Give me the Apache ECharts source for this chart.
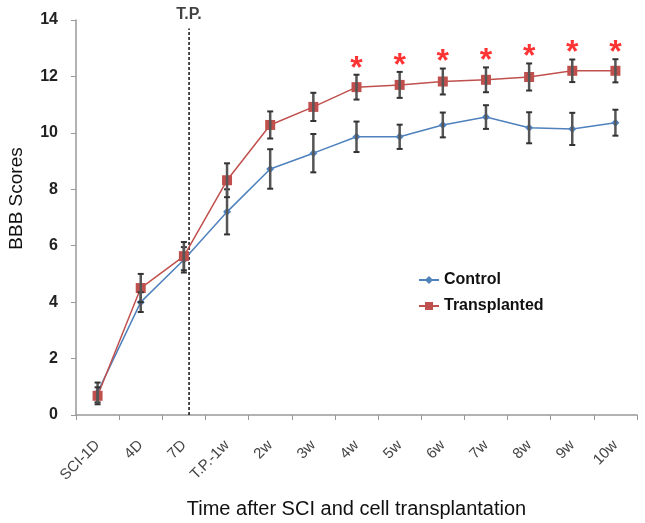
<!DOCTYPE html>
<html lang="en">
<head>
    <meta charset="UTF-8">
    <title>BBB Scores</title>
    <style>
        html, body { margin: 0; padding: 0; background: #fff; }
        #main { width: 645px; height: 523px; }
    </style>
</head>
<body>
    <div id="main"></div>
</body>
<script src="https://cdn.jsdelivr.net/npm/echarts@6/dist/echarts.min.js"></script>
<script type="text/javascript">
    // data
    var categories = ['SCI-1D', '4D', '7D', 'T.P.-1w', '2w', '3w', '4w', '5w', '6w', '7w', '8w', '9w', '10w'];
    var controlMean = [0.8, 4.0, 5.5, 7.2, 8.72, 9.28, 9.86, 9.86, 10.28, 10.56, 10.18, 10.14, 10.36];
    var controlErr = [0.35, 0.35, 0.45, 0.8, 0.7, 0.68, 0.54, 0.43, 0.44, 0.42, 0.55, 0.57, 0.46];
    var transMean = [0.68, 4.5, 5.63, 8.32, 10.28, 10.92, 11.62, 11.7, 11.82, 11.88, 11.98, 12.2, 12.2];
    var transErr = [0.3, 0.5, 0.5, 0.6, 0.48, 0.5, 0.44, 0.46, 0.46, 0.44, 0.48, 0.4, 0.41];
    var significant = [0, 0, 0, 0, 0, 0, 1, 1, 1, 1, 1, 1, 1];
    var tpPosition = 2.62; // transplantation, just after 7D
    var tpTop = 13.7;

    var blue = '#4F81BD';
    var red = '#C0504D';

    function errorBars(mean, err) {
        return mean.map(function (m, i) {
            return [i, m - err[i], m + err[i]];
        });
    }

    function renderError(params, api) {
        var x = api.value(0);
        var lo = api.coord([x, api.value(1)]);
        var hi = api.coord([x, api.value(2)]);
        var cap = 3;
        var st = { stroke: '#333', lineWidth: 2 };
        return {
            type: 'group',
            children: [
                { type: 'line', shape: { x1: lo[0], y1: lo[1], x2: hi[0], y2: hi[1] }, style: { stroke: '#555', lineWidth: 2.5 } },
                { type: 'line', shape: { x1: lo[0] - cap, y1: lo[1], x2: lo[0] + cap, y2: lo[1] }, style: st },
                { type: 'line', shape: { x1: hi[0] - cap, y1: hi[1], x2: hi[0] + cap, y2: hi[1] }, style: st }
            ]
        };
    }

    var starData = [];
    transMean.forEach(function (m, i) {
        if (significant[i]) starData.push([i, m + transErr[i]]);
    });

    var option = {
        animation: false,
        textStyle: { fontFamily: 'Liberation Sans, Arial, sans-serif' },
        grid: { left: 76, right: 8, top: 20, bottom: 108, outerBoundsMode: 'none', containLabel: false },
        legend: {
            orient: 'vertical',
            left: 413,
            top: 267,
            itemWidth: 20,
            itemHeight: 10,
            itemGap: 10,
            textStyle: { fontSize: 16, fontWeight: 'bold', color: '#111' },
            data: ['Control', 'Transplanted']
        },
        xAxis: [{
            type: 'category',
            data: categories,
            boundaryGap: true,
            axisLine: { lineStyle: { color: '#999', width: 1.5 } },
            axisTick: { show: true, length: 5, lineStyle: { color: '#999' } },
            axisLabel: { rotate: 45, fontSize: 15, color: '#444', margin: 28 },
            name: 'Time after SCI and cell transplantation',
            nameLocation: 'middle',
            nameGap: 84,
            nameTextStyle: { fontSize: 20, color: '#111' }
        }, {
            type: 'value',
            min: 0,
            max: categories.length,
            show: false
        }],
        yAxis: {
            type: 'value',
            min: 0,
            max: 14,
            interval: 2,
            splitLine: { show: false },
            axisLine: { show: true, lineStyle: { color: '#999', width: 1.5 } },
            axisTick: { show: true, length: 5, lineStyle: { color: '#999' } },
            axisLabel: { fontSize: 16, fontWeight: 'bold', color: '#222', margin: 18 },
            name: 'BBB Scores',
            nameLocation: 'middle',
            nameGap: 50,
            nameTextStyle: { fontSize: 19, color: '#111', padding: [0, 0, 0, 38] }
        },
        series: [{
            type: 'line',
            xAxisIndex: 1,
            data: [[tpPosition, 0], [tpPosition, tpTop]],
            symbol: 'none',
            silent: true,
            lineStyle: { color: '#111', width: 1.5, type: [3, 2] }
        }, {
            type: 'scatter',
            xAxisIndex: 1,
            data: [[tpPosition, tpTop]],
            symbolSize: 0,
            silent: true,
            label: {
                show: true,
                position: 'top',
                distance: 6,
                formatter: 'T.P.',
                fontSize: 16,
                fontWeight: 'bold',
                color: '#111'
            }
        }, {
            name: 'Control',
            type: 'line',
            data: controlMean,
            symbol: 'diamond',
            symbolSize: 8,
            itemStyle: { color: blue },
            lineStyle: { color: blue, width: 1.5 },
            z: 3
        }, {
            type: 'custom',
            data: errorBars(controlMean, controlErr),
            renderItem: renderError,
            z: 4
        }, {
            name: 'Transplanted',
            type: 'line',
            data: transMean,
            symbol: 'rect',
            symbolSize: 10,
            itemStyle: { color: red },
            lineStyle: { color: red, width: 1.5 },
            z: 3
        }, {
            type: 'custom',
            data: errorBars(transMean, transErr),
            renderItem: renderError,
            z: 4
        }, {
            type: 'scatter',
            data: starData,
            symbolSize: 0,
            silent: true,
            label: {
                show: true,
                position: 'top',
                formatter: '*',
                fontSize: 32,
                fontWeight: 'bold',
                color: '#FF0000',
                offset: [0, 15]
            }
        }]
    };

    var myChart = echarts.init(document.getElementById('main'));
    myChart.setOption(option);
    window.onresize = function () {
        myChart.resize();
    };
</script>
</html>
